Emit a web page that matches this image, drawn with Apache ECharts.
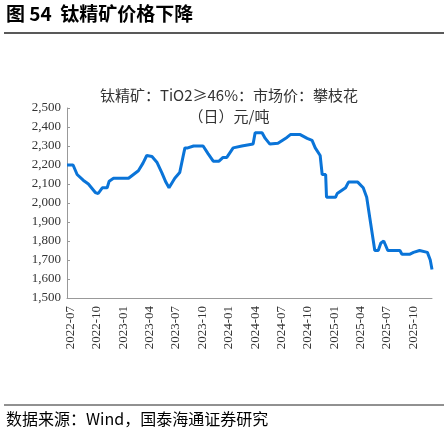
<!DOCTYPE html>
<html>
<head>
<meta charset="utf-8">
<script src="https://cdn.jsdelivr.net/npm/echarts@6/dist/echarts.min.js"></script>
<style>
  body { margin: 0; background: #fff; }
  #chart { width: 448px; height: 437px; }
</style>
</head>
<body>
<div id="chart"></div>
<script>
// price readings
var dates = ['2022-06-20', '2022-07-11', '2022-07-25', '2022-08-15', '2022-09-02', '2022-09-26', '2022-10-06',
    '2022-10-20', '2022-11-06', '2022-11-13', '2022-11-28', '2023-01-19', '2023-02-05', '2023-02-22',
    '2023-03-10', '2023-03-23', '2023-04-10', '2023-04-27', '2023-05-14', '2023-05-28', '2023-06-08',
    '2023-06-28', '2023-07-15', '2023-07-26', '2023-08-02', '2023-08-12', '2023-09-01', '2023-10-04',
    '2023-10-21', '2023-11-08', '2023-11-28', '2023-12-12', '2023-12-25', '2024-01-16', '2024-02-15',
    '2024-03-25', '2024-04-01', '2024-04-25', '2024-05-06', '2024-05-22', '2024-06-19', '2024-07-20',
    '2024-08-01', '2024-09-04', '2024-09-28', '2024-10-15', '2024-10-26', '2024-11-12', '2024-11-19',
    '2024-12-01', '2024-12-04', '2025-01-04', '2025-01-10', '2025-02-08', '2025-02-18', '2025-03-22',
    '2025-04-10', '2025-04-22', '2025-05-03', '2025-05-09', '2025-05-20', '2025-06-01', '2025-06-10',
    '2025-06-20', '2025-07-04', '2025-08-15', '2025-08-22', '2025-09-17', '2025-10-01', '2025-10-22',
    '2025-11-18', '2025-11-28', '2025-12-04'];
var prices = [2200, 2200, 2150, 2120, 2100, 2055, 2050,
    2080, 2080, 2115, 2130, 2130, 2150, 2170,
    2210, 2250, 2245, 2215, 2160, 2110, 2080,
    2130, 2160, 2240, 2290, 2290, 2300, 2300,
    2260, 2220, 2220, 2240, 2240, 2290, 2300,
    2310, 2370, 2370, 2340, 2310, 2315, 2345,
    2360, 2360, 2340, 2330, 2290, 2250, 2150,
    2150, 2030, 2030, 2050, 2080, 2110, 2110,
    2080, 2030, 1920, 1920, 1750, 1750, 1790,
    1800, 1750, 1750, 1730, 1730, 1740, 1750,
    1740, 1700, 1650];

var font = '"Noto Sans CJK SC", "Liberation Serif", serif';
var myChart = echarts.init(document.getElementById('chart'));
var option = {
    animation: false,
    textStyle: { fontFamily: font },
    title: {
        text: '钛精矿：TiO2≥46%：市场价：攀枝花\n（日）元/吨',
        left: 224, top: 80, textAlign: 'center',
        textStyle: { fontSize: 15, fontWeight: 'normal', color: '#333', lineHeight: 21, fontFamily: font }
    },
    graphic: [
        { type: 'text', left: 6, top: 4, style: { text: '图 54  钛精矿价格下降', font: 'bold 19px ' + font, fill: '#000' } },
        { type: 'line', shape: { x1: 4, y1: 33, x2: 444, y2: 33 }, style: { stroke: '#222', lineWidth: 1.5 } },
        { type: 'line', shape: { x1: 4, y1: 405, x2: 444, y2: 405 }, style: { stroke: '#222', lineWidth: 1 } },
        { type: 'text', left: 6, top: 411, style: { text: '数据来源：Wind，国泰海通证券研究', font: '16px ' + font, fill: '#000' } }
    ],
    grid: { left: 67, right: 16, top: 108, bottom: 139 },
    xAxis: {
        type: 'time',
        min: +new Date('2022-06-20'),
        max: +new Date('2025-12-04'),
        minInterval: 3 * 30 * 86400000,
        maxInterval: 3 * 31 * 86400000,
        axisLine: { lineStyle: { color: '#999' } },
        axisTick: { show: false },
        splitLine: { show: false },
        axisLabel: {
            rotate: 90, color: '#333', fontSize: 13, fontFamily: 'Liberation Serif',
            hideOverlap: false,
            formatter: '{yyyy}-{MM}'
        }
    },
    yAxis: {
        type: 'value', min: 1500, max: 2500, interval: 100,
        axisLine: { show: true, lineStyle: { color: '#999' } },
        axisTick: { show: true, inside: true, length: 3, lineStyle: { color: '#999' } },
        splitLine: { show: false },
        axisLabel: {
            color: '#333', fontSize: 13, fontFamily: 'Liberation Serif', margin: 6,
            formatter: function (v) { return v.toLocaleString('en-US'); }
        }
    },
    series: [{
        type: 'line',
        data: dates.map(function (d, i) { return [d, prices[i]]; }),
        showSymbol: false,
        lineStyle: { color: '#0a74d8', width: 3 }
    }]
};
myChart.setOption(option);
</script>
</body>
</html>
